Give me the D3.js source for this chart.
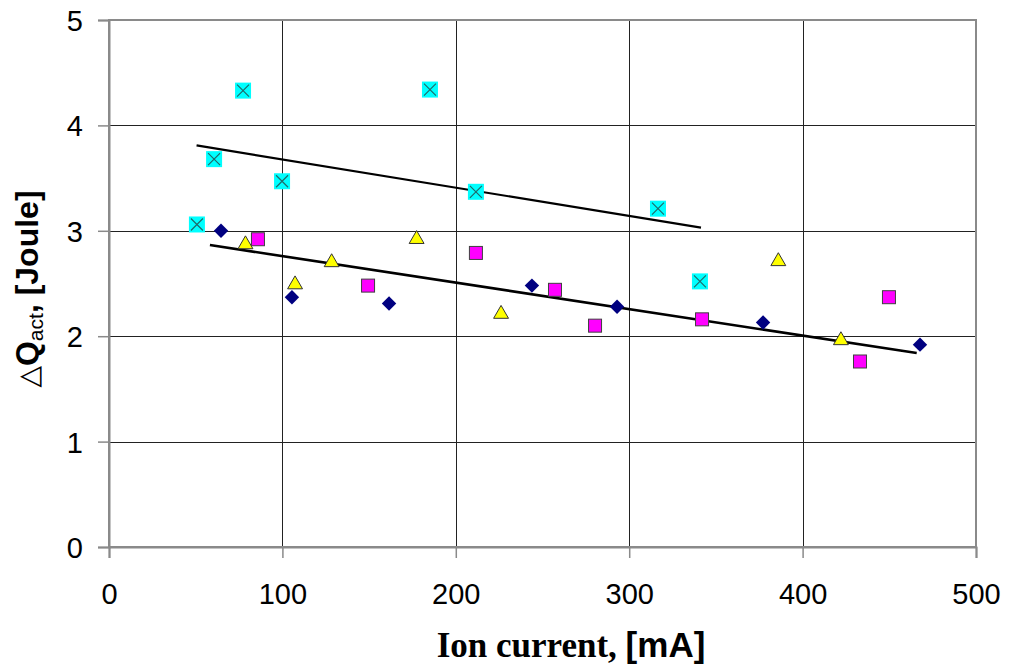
<!DOCTYPE html>
<html>
<head>
<meta charset="utf-8">
<script src="https://cdn.jsdelivr.net/npm/d3@7"></script>
<style>
	body { margin: 0; background: #fff; }
	svg { display: block; font-family: Arial, "Liberation Sans", sans-serif; }
</style>
</head>
<body>
<svg id="chart" width="1010" height="669"></svg>
<script>
// values: [ion current mA, dQ joule]
const diamonds = [[64.6, 3.00], [105.5, 2.37], [161.5, 2.31], [243.9, 2.48], [293.0, 2.28], [377.2, 2.13], [467.7, 1.92]]
const squares = [[85.9, 2.92], [149.4, 2.48], [211.6, 2.79], [257.2, 2.44], [280.3, 2.10], [342.0, 2.16], [433.1, 1.76], [449.8, 2.37]]
const triangles = [[78.7, 2.88], [107.3, 2.50], [128.4, 2.71], [177.4, 2.93], [226.1, 2.22], [386.0, 2.72], [422.1, 1.97]]
const crosses = [[50.7, 3.06], [60.6, 3.68], [77.3, 4.33], [99.8, 3.47], [185.1, 4.34], [211.6, 3.37], [316.6, 3.21], [340.8, 2.52]]

// trend lines (end points)
const fitUpper = [[50.5, 3.81], [341.4, 3.03]]
const fitLower = [[58.2, 2.865], [465.8, 1.84]]

const xTicks = [0, 100, 200, 300, 400, 500]
const yTicks = [0, 1, 2, 3, 4, 5]

const svg = d3.select('#chart')
const plot = { left: 109, right: 976, top: 20, bottom: 547 }

const x = d3.scaleLinear().domain([0, 500]).range([plot.left, plot.right])
const y = d3.scaleLinear().domain([0, 5]).range([plot.bottom, plot.top])

// grid
svg.append('g')
	.selectAll('line')
	.data(xTicks.slice(1, -1))
	.enter()
	.append('line')
	.attr('x1', d => Math.round(x(d)) + 0.5)
	.attr('x2', d => Math.round(x(d)) + 0.5)
	.attr('y1', plot.top)
	.attr('y2', plot.bottom)
	.attr('stroke', '#222')
	.attr('stroke-width', 1)

svg.append('g')
	.selectAll('line')
	.data(yTicks.slice(1, -1))
	.enter()
	.append('line')
	.attr('x1', plot.left)
	.attr('x2', plot.right)
	.attr('y1', d => Math.round(y(d)) + 0.5)
	.attr('y2', d => Math.round(y(d)) + 0.5)
	.attr('stroke', '#222')
	.attr('stroke-width', 1)

// plot frame
svg.append('rect')
	.attr('x', plot.left)
	.attr('y', plot.top)
	.attr('width', plot.right - plot.left)
	.attr('height', plot.bottom - plot.top)
	.attr('fill', 'none')
	.attr('stroke', '#8a8a8a')
	.attr('stroke-width', 2)

// axes
const xAxis = svg.append('g')
	.attr('transform', `translate(0,${plot.bottom})`)
	.call(d3.axisBottom(x).tickValues(xTicks).tickSize(11).tickPadding(25).tickFormat(d3.format('d')))
const yAxis = svg.append('g')
	.attr('transform', `translate(${plot.left},0)`)
	.call(d3.axisLeft(y).tickValues(yTicks).tickSize(11).tickPadding(15).tickFormat(d3.format('d')))

;[xAxis, yAxis].forEach(a => {
	a.select('.domain').attr('stroke', '#8a8a8a').attr('stroke-width', 2)
	a.selectAll('.tick line').attr('stroke', '#8a8a8a').attr('stroke-width', 1.5)
	a.selectAll('.tick text')
		.attr('fill', '#000')
		.style('font-family', 'Arial, "Liberation Sans", sans-serif')
		.style('font-size', '29px')
})
yAxis.selectAll('.tick text').attr('dy', '0.36em')

// trend lines
const line = d3.line().x(d => x(d[0])).y(d => y(d[1]))
svg.append('path')
	.attr('d', line(fitUpper))
	.attr('fill', 'none')
	.attr('stroke', '#000')
	.attr('stroke-width', 2.2)
svg.append('path')
	.attr('d', line(fitLower))
	.attr('fill', 'none')
	.attr('stroke', '#000')
	.attr('stroke-width', 2.6)

// markers
svg.append('g')
	.selectAll('path')
	.data(diamonds)
	.enter()
	.append('path')
	.attr('d', d3.symbol(d3.symbolSquare, 104))
	.attr('transform', d => `translate(${x(d[0])},${y(d[1])}) rotate(45)`)
	.attr('fill', '#000080')

svg.append('g')
	.selectAll('rect')
	.data(squares)
	.enter()
	.append('rect')
	.attr('x', d => x(d[0]) - 6.5)
	.attr('y', d => y(d[1]) - 6.5)
	.attr('width', 13)
	.attr('height', 13)
	.attr('fill', '#ff00ff')
	.attr('stroke', '#404040')
	.attr('stroke-width', 1)

svg.append('g')
	.selectAll('path')
	.data(triangles)
	.enter()
	.append('path')
	.attr('d', d3.symbol(d3.symbolTriangle, 96))
	.attr('transform', d => `translate(${x(d[0])},${y(d[1]) + 1})`)
	.attr('fill', '#ffff00')
	.attr('stroke', '#333')
	.attr('stroke-width', 1)

const cross = svg.append('g')
	.selectAll('g')
	.data(crosses)
	.enter()
	.append('g')
	.attr('transform', d => `translate(${x(d[0])},${y(d[1])})`)
cross.append('rect')
	.attr('x', -8)
	.attr('y', -8)
	.attr('width', 16)
	.attr('height', 16)
	.attr('fill', '#00ffff')
cross.append('path')
	.attr('d', 'M-6,-6L6,6M-6,6L6,-6')
	.attr('stroke', '#1f6b6b')
	.attr('stroke-width', 1.2)

// axis titles
const xt = svg.append('text')
	.attr('x', 571)
	.attr('y', 657)
	.attr('text-anchor', 'middle')
	.style('font-size', '35px')
	.style('font-weight', 'bold')
xt.append('tspan')
	.style('font-family', '"Liberation Serif", "Times New Roman", serif')
	.text('Ion current, ')
xt.append('tspan')
	.style('font-family', 'Arial, "Liberation Sans", sans-serif')
	.text('[mA]')

const yt = svg.append('text')
	.attr('transform', 'translate(38,289) rotate(-90)')
	.attr('text-anchor', 'middle')
	.style('font-size', '32px')
	.style('font-weight', 'bold')
yt.append('tspan')
	.style('font-family', '"DejaVu Sans", sans-serif')
	.style('font-weight', 'normal')
	.style('font-size', '28px')
	.text('\u25B3')
yt.append('tspan').text('Q')
yt.append('tspan').attr('dy', 5).style('font-size', '21px').style('font-weight', 'normal').text('act')
yt.append('tspan').attr('dy', -5).text(', [Joule]')
</script>
</body>
</html>
